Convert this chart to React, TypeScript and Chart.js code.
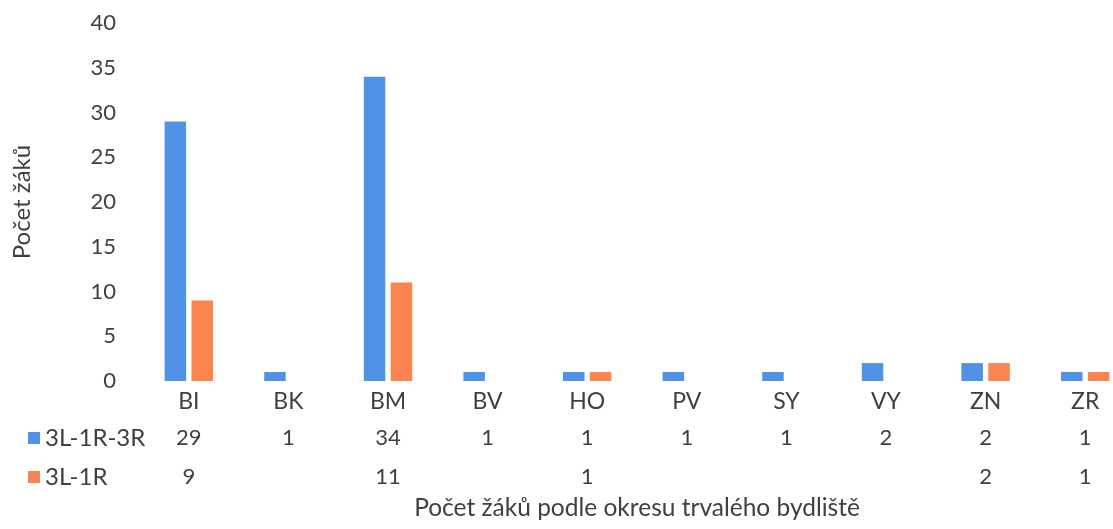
import React, { useEffect, useRef } from "react";
import { Chart, registerables } from "chart.js";

Chart.register(...registerables);

const categories = ["BI", "BK", "BM", "BV", "HO", "PV", "SY", "VY", "ZN", "ZR"];
const seriesNames = ["3L-1R-3R", "3L-1R"];
const seriesA: (number | null)[] = [29, 1, 34, 1, 1, 1, 1, 2, 2, 1];
const seriesB: (number | null)[] = [9, null, 11, null, 1, null, null, null, 2, 1];
const yTicks = [0, 5, 10, 15, 20, 25, 30, 35, 40];
const yTitle = "Počet žáků";
const xTitle = "Počet žáků podle okresu trvalého bydliště";

const COLORS = ["#4f92e6", "#fb8450"];
const TEXT = "#404040";
const FONT = "Lato";

const tablePlugin = {
  id: "dataTable",
  afterDraw(chart: any) {
    const ctx = chart.ctx;
    const x = chart.scales.x;
    const bottom = chart.chartArea.bottom;
    const rows = [
      { name: seriesNames[0], data: seriesA, color: COLORS[0], y: bottom + 57 },
      { name: seriesNames[1], data: seriesB, color: COLORS[1], y: bottom + 96 },
    ];
    ctx.save();
    ctx.fillStyle = TEXT;
    ctx.textBaseline = "middle";
    rows.forEach((r) => {
      ctx.fillStyle = r.color;
      ctx.fillRect(28, r.y - 6, 12, 12);
      ctx.fillStyle = TEXT;
      ctx.textAlign = "left";
      ctx.font = `24px ${FONT}`;
      ctx.fillText(r.name, 45, r.y);
      ctx.textAlign = "center";
      ctx.font = `22px ${FONT}`;
      r.data.forEach((v, i) => {
        if (v === null || v === undefined) return;
        ctx.fillText(String(v), x.getPixelForValue(i), r.y);
      });
    });
    ctx.restore();
  },
};

export default function App() {
  const ref = useRef<HTMLCanvasElement | null>(null);
  useEffect(() => {
    document.body.style.margin = "0";
    document.body.style.overflow = "hidden";
    const chart = new Chart(ref.current!, {
      type: "bar",
      data: {
        labels: categories,
        datasets: [
          { label: seriesNames[0], data: seriesA, backgroundColor: COLORS[0] },
          { label: seriesNames[1], data: seriesB, backgroundColor: COLORS[1] },
        ],
      },
      options: {
        responsive: false,
        animation: false,
        layout: { padding: { top: 23, right: 25, left: 4, bottom: 0 } },
        datasets: { bar: { categoryPercentage: 0.54, barPercentage: 0.8 } },
        plugins: { legend: { display: false }, tooltip: { enabled: false } },
        scales: {
          x: {
            grid: { display: false, drawTicks: false },
            border: { display: false },
            ticks: { color: TEXT, font: { family: FONT, size: 23 }, padding: 7 },
            title: {
              display: true,
              text: xTitle,
              color: TEXT,
              font: { family: FONT, size: 24.5 },
              padding: { top: 0, bottom: 6 },
            },
            afterFit(scale: any) {
              scale.height = 148;
              scale.paddingLeft = 0;
              scale.paddingRight = 0;
            },
          },
          y: {
            min: 0,
            max: 40,
            afterBuildTicks(scale: any) {
              scale.ticks = yTicks.map((v) => ({ value: v }));
            },
            grid: { display: false, drawTicks: false },
            border: { display: false },
            ticks: { color: TEXT, font: { family: FONT, size: 22 }, padding: 23 },
            title: {
              display: true,
              text: yTitle,
              color: TEXT,
              font: { family: FONT, size: 24 },
              padding: { top: 4, bottom: 0 },
            },
            afterFit(scale: any) {
              scale.width = 135;
              scale.paddingTop = 0;
              scale.paddingBottom = 0;
            },
          },
        },
      },
      plugins: [tablePlugin],
    } as any);
    return () => chart.destroy();
  }, []);
  return (
    <div style={{ width: 1113, height: 529, overflow: "hidden", background: "#fff" }}>
      <canvas ref={ref} width={1160} height={529} style={{ display: "block" }} />
    </div>
  );
}
